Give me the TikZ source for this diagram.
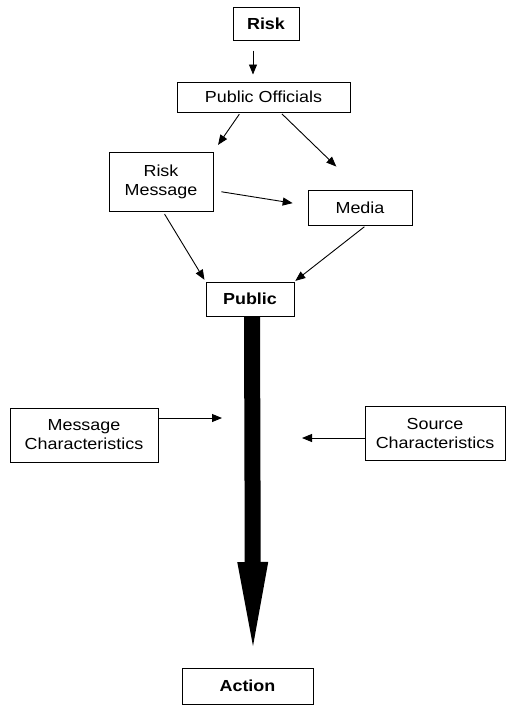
\documentclass[tikz,border=0pt]{standalone}
\usepackage{fontspec}
\setmainfont{Liberation Sans}[FakeStretch=1.12]
\usetikzlibrary{arrows.meta, positioning}
\tikzset{
    box/.style={
        rectangle, draw=black, line width=1pt,
        text centered, align=center, inner sep=2pt,
        font=\fontsize{16}{19}\selectfont
    },
    boldbox/.style={box, font=\fontsize{16}{19}\selectfont\bfseries},
    arrow/.style={-{Triangle[length=10pt, width=8pt]}, line width=0.9pt},
    bigarrow/.style={-{Triangle[length=84pt, width=31pt, line width=0pt]}, line width=16pt}
}

\begin{document}
\begin{tikzpicture}[x=1pt, y=-1pt]
    \useasboundingbox (0,0) rectangle (506,705);

    \node[boldbox, minimum width=66pt, minimum height=33pt] (risk) at (266,23.5) {Risk};
    \node[box, minimum width=173pt, minimum height=30pt] (officials) at (263.5,97) {Public Officials};
    \node[box, minimum width=104pt, minimum height=59pt] (message) at (161,181.5) {Risk\\Message};
    \node[box, minimum width=104pt, minimum height=35pt] (media) at (360,207.5) {Media};
    \node[boldbox, minimum width=88pt, minimum height=34pt] (public) at (250,299) {Public};
    \node[box, minimum width=148pt, minimum height=54pt] (msgchar) at (84,435) {Message\\Characteristics};
    \node[box, minimum width=140pt, minimum height=54pt] (srcchar) at (435,433) {Source\\Characteristics};
    \node[boldbox, minimum width=131pt, minimum height=36pt] (action) at (247.5,686) {Action};

    % free ends
    \coordinate (tip) at (253,646);
    \coordinate (leftend) at (222,418);
    \coordinate (rightend) at (302,438);

    % Thin arrows
    \draw[arrow, shorten <=10pt, shorten >=7pt] ([xshift=-13pt]risk.south) -- ([xshift=-10.5pt]officials.north);
    \draw[arrow, shorten <=2pt, shorten >=8pt] ([xshift=-23pt]officials.south) -- (message.north east);
    \draw[arrow, shorten <=2pt, shorten >=33pt] ([xshift=17pt]officials.south) -- (media.north);
    \draw[arrow, shorten <=8pt, shorten >=15pt] ([yshift=-9pt]message.east) -- ([yshift=2pt]media.west);
    \draw[arrow, shorten <=3pt, shorten >=2pt] ([xshift=2pt]message.south) -- (public.north west);
    \draw[arrow, shorten <=2pt, shorten >=1pt] ([xshift=6pt]media.south) -- (public.north east);
    \draw[arrow] (msgchar.east |- leftend) -- (leftend);
    \draw[arrow] (srcchar.west |- rightend) -- (rightend);

    % Thick arrow
    \draw[bigarrow] ([xshift=2pt]public.south) -- (tip);
\end{tikzpicture}
\end{document}
